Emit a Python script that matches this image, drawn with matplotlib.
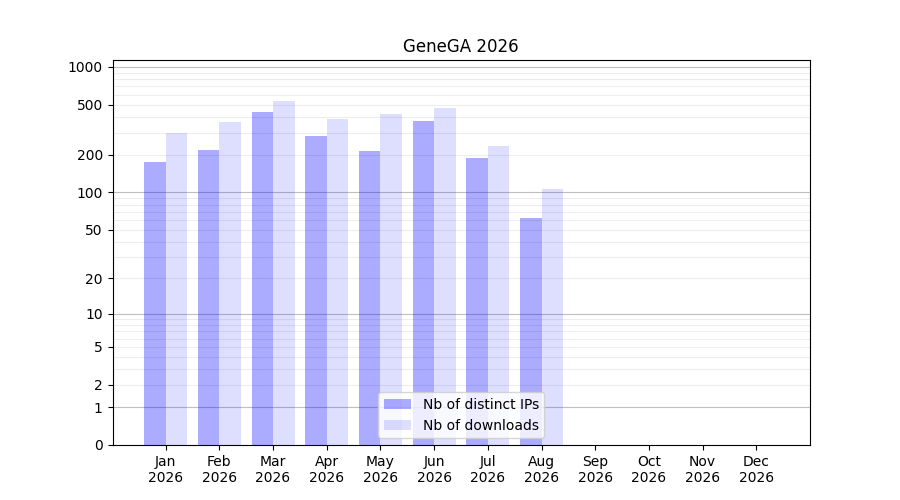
import numpy as np
import matplotlib
matplotlib.use('Agg')
import matplotlib.pyplot as plt

months = ['Jan', 'Feb', 'Mar', 'Apr', 'May', 'Jun', 'Jul', 'Aug', 'Sep', 'Oct', 'Nov', 'Dec']
year = 2026
distinct_ips = [176, 218, 438, 282, 214, 372, 189, 62]
downloads = [300, 365, 536, 386, 423, 472, 235, 107]
ytick_values = [0, 1, 2, 5, 10, 20, 50, 100, 200, 500, 1000]


def fwd(y):
    return np.log10(1 + np.clip(y, 0, None))


def inv(y):
    return 10 ** y - 1


fig, ax = plt.subplots(figsize=(9, 5), dpi=100)
ax.set_yscale('function', functions=(fwd, inv))

# grid lines: darker at powers of ten, light in between
for p in [1, 10, 100, 1000]:
    ax.axhline(p, color='0.75', lw=0.8, zorder=0)
    for k in range(2, 10):
        if p * k < 1136:
            ax.axhline(p * k, color='0.93', lw=0.8, zorder=0)

x = np.arange(len(distinct_ips))
ax.bar(x - 0.2, distinct_ips, width=0.4, color='blue', alpha=0.33, label='Nb of distinct IPs')
ax.bar(x + 0.2, downloads, width=0.4, color='blue', alpha=0.13, label='Nb of downloads')

ax.set_ylim(0, 1136)
ax.set_yticks(ytick_values)
ax.set_yticklabels([str(v) for v in ytick_values])
ax.minorticks_off()
ax.set_xticks(np.arange(len(months)))
ax.set_xticklabels([f'{m}\n{year}' for m in months])
ax.set_xlim(-0.99, 12.0)
ax.set_title(f'GeneGA {year}')
ax.legend(loc='lower center')

fig.savefig('out.png')
